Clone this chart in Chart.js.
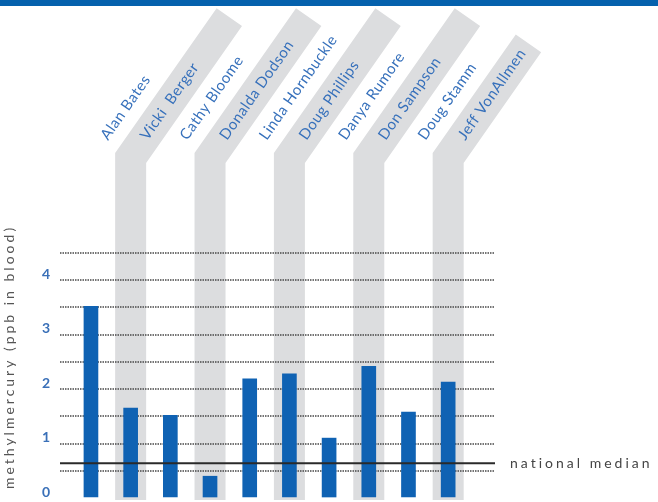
<!DOCTYPE html>
<html>
<head>
<meta charset="utf-8">
<script src="https://cdn.jsdelivr.net/npm/chart.js@4"></script>
<style>
  html, body { margin: 0; padding: 0; background: #fff; }
</style>
</head>
<body>
<canvas id="chart" width="658" height="502"></canvas>
<script>
// people tested, in order along the x axis
const names = ["Alan Bates", "Vicki  Berger", "Cathy Bloome", "Donalda Dodson", "Linda Hornbuckle",
  "Doug Phillips", "Danya Rumore", "Don Sampson", "Doug Stamm", "Jeff VonAllmen"];
// methylmercury, ppb in blood
const mercury = [3.52, 1.65, 1.52, 0.40, 2.19, 2.28, 1.10, 2.42, 1.58, 2.13];
const nationalMedian = 0.64;
const yTickLabels = ["0", "1", "2", "3", "4"];

const BLUE = "#0f62b3";
const ANGLE = 55 * Math.PI / 180;

const decor = {
  id: "decor",
  beforeDraw(chart) {
    const { ctx, chartArea: a, scales: { x } } = chart;
    const dx = Math.cos(ANGLE), dy = -Math.sin(ANGLE);
    ctx.save();
    // strip on top
    ctx.fillStyle = "#0561ad";
    ctx.fillRect(0, 0, chart.width, 6);

    // grey bent bands behind every second name
    ctx.strokeStyle = "#dcdddf";
    ctx.lineWidth = 31;
    ctx.lineJoin = "miter";
    ctx.lineCap = "butt";
    names.forEach((n, i) => {
      if (i % 2 === 0) return;
      const cx = x.getPixelForValue(i);
      const len = i === names.length - 1 ? 140 : 172;
      ctx.beginPath();
      ctx.moveTo(cx, a.bottom + 2);
      ctx.lineTo(cx, 158);
      ctx.lineTo(cx + len * dx, 158 + len * dy);
      ctx.stroke();
    });

    // slanted names
    ctx.fillStyle = "#3670bb";
    ctx.font = "15px Lato";
    ctx.letterSpacing = "0.5px";
    ctx.textAlign = "left";
    ctx.textBaseline = "alphabetic";
    names.forEach((n, i) => {
      const cx = x.getPixelForValue(i);
      ctx.save();
      ctx.translate(cx + 17, 141);
      ctx.rotate(-ANGLE);
      ctx.fillText(n, 0, 0);
      ctx.restore();
    });

    // y axis title
    ctx.fillStyle = "#555";
    ctx.font = "14px Lato";
    ctx.letterSpacing = "3px";
    ctx.textAlign = "center";
    ctx.textBaseline = "middle";
    ctx.translate(9, 357);
    ctx.rotate(-Math.PI / 2);
    ctx.fillText("methylmercury (ppb in blood)", 0, 0);
    ctx.restore();
  },
  afterDatasetsDraw(chart) {
    const { ctx, chartArea: a, scales: { y } } = chart;
    const py = y.getPixelForValue(nationalMedian);
    ctx.save();
    ctx.strokeStyle = "#2a2a2a";
    ctx.lineWidth = 2;
    ctx.beginPath();
    ctx.moveTo(a.left, py);
    ctx.lineTo(a.right, py);
    ctx.stroke();
    ctx.fillStyle = "#444";
    ctx.font = "14px Lato";
    ctx.letterSpacing = "3px";
    ctx.textAlign = "left";
    ctx.textBaseline = "middle";
    ctx.fillText("national median", a.right + 15, py);
    ctx.restore();
  }
};

new Chart(document.getElementById("chart"), {
  type: "bar",
  data: {
    datasets: [{
      data: mercury.map((v, i) => ({ x: i, y: v })),
      backgroundColor: BLUE,
      borderWidth: 0,
      barThickness: 14
    }]
  },
  options: {
    responsive: false,
    animation: false,
    layout: { padding: { top: 253, right: 163, bottom: 4, left: 0 } },
    plugins: { legend: { display: false }, tooltip: { enabled: false } },
    scales: {
      x: { type: "linear", min: -0.78, max: 10.18, offset: false, display: false },
      y: {
        min: 0,
        max: 4.5,
        afterFit: s => { s.width = 60; s.paddingTop = 0; s.paddingBottom = 0; },
        ticks: {
          stepSize: 0.5,
          padding: 10,
          labelOffset: -6,
          color: "#3a70b8",
          font: { family: "Lato", size: 14, weight: "bold" },
          callback: v => Number.isInteger(v) ? yTickLabels[v] : ""
        },
        grid: {
          color: c => c.tick && c.tick.value === 0 ? "rgba(0,0,0,0)" : "rgba(70,70,70,0.75)",
          lineWidth: 2,
          drawTicks: false
        },
        border: { display: false, dash: [1.5, 1] }
      }
    }
  },
  plugins: [decor]
});
</script>
</body>
</html>
